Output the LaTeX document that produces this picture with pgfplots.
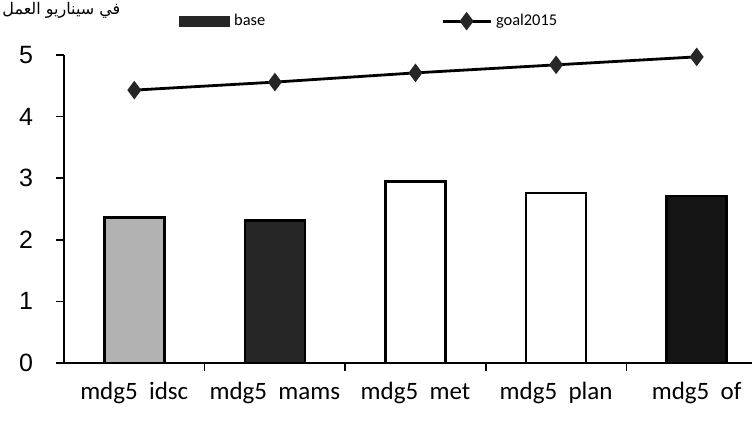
\documentclass[border=0pt]{standalone}
\usepackage{fontspec}
\setmainfont{Carlito}
\newfontfamily\arialfont{Liberation Sans}
\newfontfamily\arabicfont[Script=Arabic]{DejaVu Sans}
\TeXXeTstate=1
\usepackage{pgfplots}
\pgfplotsset{compat=1.18}
\pgfplotsset{goallegend/.style={legend image code/.code={\draw[mark repeat=2,mark phase=2,##1] plot coordinates {(0pt,0pt) (12pt,0pt) (24pt,0pt)};}}}
\begin{document}
\begin{tikzpicture}[x=1pt,y=1pt]
\useasboundingbox (0,0) rectangle (376,211.5);
\clip (0,0) rectangle (376,211.5);
\node[anchor=north west, font=\arabicfont\fontsize{8}{10}\selectfont, inner sep=0pt] at (1,210.5) {\beginR في سيناريو العمل\endR};
\begin{axis}[
  at={(32pt,30pt)}, anchor=south west,
  scale only axis, width=351.5pt, height=154pt,
  xmin=-0.5, xmax=4.5, ymin=0, ymax=5,
  axis lines=left, axis line style={-, line width=0.9pt, black},
  ytick={0,1,2,3,4,5},
  xtick={0,1,2,3,4},
  xticklabels={mdg5\ \ idsc, mdg5\ \ mams, mdg5\ \ met, mdg5\ \ plan, mdg5\ \ of},
  major x tick style={draw=none},
  minor xtick={0.5,1.5,2.5,3.5},
  minor tick length=4pt, major tick length=4pt,
  tick align=outside, tick style={black, line width=0.8pt},
  xticklabel style={font=\fontsize{12.5}{14}\selectfont, yshift=-2pt},
  yticklabel style={font=\arialfont\fontsize{12.5}{14}\selectfont, xshift=-8pt},
  /pgf/number format/assume math mode=true,
  ybar, bar width=30pt, bar shift=0pt,
  legend columns=2,
  legend style={draw=none, fill=none, at={(0.155,1.11)}, anchor=west,
    font=\fontsize{8.2}{10}\selectfont,
    /tikz/every even column/.append style={column sep=86pt}},
]
\addplot[forget plot, draw=black, line width=1.3pt, fill=black!30] coordinates {(0,2.36)};
\addplot[forget plot, draw=black, line width=1.3pt, fill=black!85] coordinates {(1,2.31)};
\addplot[forget plot, draw=black, line width=1.3pt, fill=white] coordinates {(2,2.95)};
\addplot[forget plot, draw=black, line width=1.3pt, fill=white] coordinates {(3,2.76)};
\addplot[forget plot, draw=black, line width=1.3pt, fill=black!92] coordinates {(4,2.71)};
\addlegendimage{legend image code/.code={\fill[black!85] (0pt,-2.5pt) rectangle (25pt,2.5pt);}}
\addlegendentry{base}
\addplot[sharp plot, black, line width=1.4pt, mark=diamond*, mark size=3.5pt,
  mark options={fill=black!85, draw=black!85}, goallegend]
  coordinates {(0,4.43) (1,4.56) (2,4.71) (3,4.84) (4,4.97)};
\addlegendentry{goal2015}
\end{axis}
\end{tikzpicture}
\end{document}
